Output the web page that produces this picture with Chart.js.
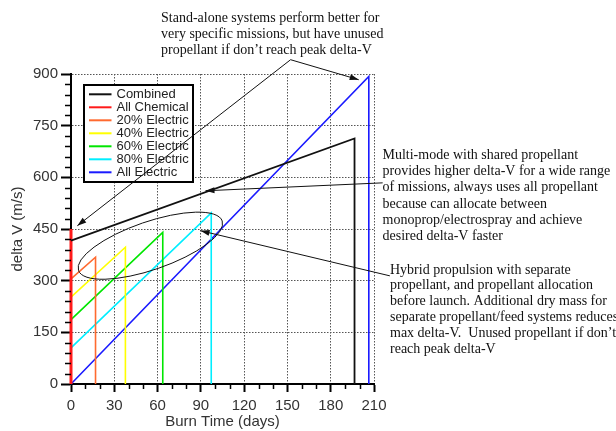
<!DOCTYPE html>
<html><head><meta charset="utf-8">
<script src="https://cdn.jsdelivr.net/npm/chart.js@4.4.1/dist/chart.umd.min.js"></script>
<style>html,body{margin:0;padding:0;background:#fff;overflow:hidden}#wrap{position:relative;width:616px;height:431px}</style>
</head><body><div id="wrap"><canvas id="c" width="616" height="431"></canvas></div>
<script>
// ---- data ----
const seriesNames = ['Combined','All Chemical','20% Electric','40% Electric','60% Electric','80% Electric','All Electric'];
const combinedDays = [0, 196.5, 196.5];
const combinedDV   = [416, 713, 0];
const chemDays     = [0, 0];
const chemDV       = [0, 450];
const e20Days      = [0, 17, 17];
const e20DV        = [305, 368, 0];
const e40Days      = [0, 37.7, 37.7];
const e40DV        = [252, 397, 0];
const e60Days      = [0, 63.6, 63.6];
const e60DV        = [187, 440, 0];
const e80Days      = [0, 97.2, 97.2];
const e80DV        = [105, 497, 0];
const elecDays     = [0, 206.4, 206.4];
const elecDV       = [0, 893, 0];
const xTicks = [0, 30, 60, 90, 120, 150, 180, 210];
const yTicks = [0, 150, 300, 450, 600, 750, 900];
const xMinorTicks = [10, 20, 40, 50, 70, 80, 100, 110, 130, 140, 160, 170, 190, 200];
const yMinorTicks = [30, 60, 90, 120, 180, 210, 240, 270, 330, 360, 390, 420, 480, 510, 540, 570, 630, 660, 690, 720, 780, 810, 840, 870];
const xTitle = 'Burn Time (days)';
const yTitle = 'delta V (m/s)';
const noteTop = ['Stand-alone systems perform better for', 'very specific missions, but have unused', 'propellant if don\u2019t reach peak delta-V'];
const noteMulti = ['Multi-mode with shared propellant', 'provides higher delta-V for a wide range', 'of missions, always uses all propellant', 'because can allocate between', 'monoprop/electrospray and achieve', 'desired delta-V faster'];
const noteHybrid = ['Hybrid propulsion with separate', 'propellant, and propellant allocation', 'before launch. Additional dry mass for', 'separate propellant/feed systems reduces', 'max delta-V.  Unused propellant if don\u2019t', 'reach peak delta-V'];

// ---- styles ----
const colors = ['#111111', '#ff1a1a', '#ff6a30', '#ffff00', '#00e600', '#00eeff', '#1a1aff'];
const widths = [1.8, 3, 1.6, 1.6, 1.6, 1.6, 1.6];
const seriesDays = [combinedDays, chemDays, e20Days, e40Days, e60Days, e80Days, elecDays];
const seriesDV = [combinedDV, chemDV, e20DV, e40DV, e60DV, e80DV, elecDV];

const datasets = seriesNames.map((n, i) => ({
  label: n,
  data: seriesDays[i].map((d, j) => ({x: d, y: seriesDV[i][j]})),
  borderColor: colors[i], backgroundColor: colors[i], borderWidth: widths[i],
  pointRadius: 0, tension: 0, fill: false, clip: false
}));

const minorTicks = {
  id: 'minorTicks',
  afterDraw(chart) {
    const {ctx, scales: {x, y}} = chart;
    ctx.save(); ctx.strokeStyle = '#000'; ctx.lineWidth = 1.5;
    ctx.beginPath();
    xMinorTicks.forEach(v => { const p = Math.round(x.getPixelForValue(v)) + 0.5; ctx.moveTo(p, y.bottom); ctx.lineTo(p, y.bottom + 5); });
    yMinorTicks.forEach(v => { const p = Math.round(y.getPixelForValue(v)) + 0.5; ctx.moveTo(x.left - 6, p); ctx.lineTo(x.left, p); });
    ctx.stroke(); ctx.restore();
  }
};

const boxLegend = {
  id: 'boxLegend',
  afterDatasetsDraw(chart) {
    const ctx = chart.ctx;
    const L = 84, T = 85, W = 109, H = 97;
    ctx.save();
    ctx.fillStyle = '#fff'; ctx.fillRect(L, T, W, H);
    ctx.strokeStyle = '#000'; ctx.lineWidth = 2; ctx.strokeRect(L, T, W, H);
    ctx.font = '13px "Liberation Sans", Arial, sans-serif';
    ctx.textBaseline = 'middle'; ctx.textAlign = 'left';
    chart.data.datasets.forEach((ds, i) => {
      const cy = 94.3 + i * 13;
      ctx.strokeStyle = ds.borderColor; ctx.lineWidth = 2;
      ctx.beginPath(); ctx.moveTo(89, cy); ctx.lineTo(111.5, cy); ctx.stroke();
      ctx.fillStyle = '#222'; ctx.fillText(ds.label, 116.5, cy + 0.5);
    });
    ctx.restore();
  }
};

function arrow(ctx, x1, y1, x2, y2) {
  ctx.beginPath(); ctx.moveTo(x1, y1); ctx.lineTo(x2, y2); ctx.stroke();
  const a = Math.atan2(y2 - y1, x2 - x1), len = 9, hw = 3;
  const bx = x2 - len * Math.cos(a), by = y2 - len * Math.sin(a);
  ctx.beginPath(); ctx.moveTo(x2, y2);
  ctx.lineTo(bx + hw * Math.sin(a), by - hw * Math.cos(a));
  ctx.lineTo(bx - hw * Math.sin(a), by + hw * Math.cos(a));
  ctx.closePath(); ctx.fill();
}

const notes = {
  id: 'notes',
  afterDraw(chart) {
    const {ctx, scales: {x, y}} = chart;
    const P = (d, v) => [x.getPixelForValue(d), y.getPixelForValue(v)];
    ctx.save();
    ctx.strokeStyle = '#111'; ctx.fillStyle = '#111'; ctx.lineWidth = 1;
    // ellipse around hybrid peaks
    const [ex, ey] = P(55, 401.5);
    ctx.beginPath(); ctx.ellipse(ex, ey, 76, 24, -19 * Math.PI / 180, 0, 2 * Math.PI); ctx.stroke();
    // arrows
    const t = P(152.2, 941.5);
    arrow(ctx, t[0], t[1], ...P(199.4, 883.4));
    arrow(ctx, t[0], t[1], ...P(4.4, 459.5));
    arrow(ctx, ...P(216, 584), ...P(93.2, 561));
    arrow(ctx, ...P(221, 314), ...P(89.8, 445));
    // texts
    ctx.font = '14px "Liberation Serif", "Times New Roman", serif';
    ctx.textBaseline = 'middle'; ctx.textAlign = 'left';
    noteTop.forEach((s, i) => ctx.fillText(s, 161, 18.3 + i * 16));
    noteMulti.forEach((s, i) => ctx.fillText(s, 382.5, 155 + i * 16.3));
    noteHybrid.forEach((s, i) => ctx.fillText(s, 390, 270 + i * 15.8));
    ctx.restore();
  }
};

const axisFont = {family: '"Liberation Sans", Arial, sans-serif', size: 15};

new Chart(document.getElementById('c'), {
  type: 'line',
  data: {datasets},
  options: {
    responsive: false, animation: false, events: [],
    layout: {padding: {left: 0, top: 74, right: 242, bottom: 0}},
    plugins: {legend: {display: false}, tooltip: {enabled: false}},
    scales: {
      x: {
        type: 'linear', min: 0, max: 210,
        afterBuildTicks: s => { s.ticks = xTicks.map(v => ({value: v})); },
        afterFit: s => { s.height = 47; },
        ticks: {font: axisFont, color: '#333', padding: 5, maxRotation: 0, autoSkip: false},
        grid: {color: '#555', lineWidth: 1, tickLength: 8, tickWidth: 2, tickColor: '#000', tickBorderDash: []},
        border: {display: true, color: '#000', width: 2, dash: [1.5, 1.5]},
        title: {display: true, text: xTitle, font: axisFont, color: '#333', padding: {top: 0, bottom: 0}}
      },
      y: {
        type: 'linear', min: 0, max: 900,
        afterBuildTicks: s => { s.ticks = yTicks.map(v => ({value: v})); },
        afterFit: s => { s.width = 71; },
        ticks: {font: axisFont, color: '#333', padding: 3, autoSkip: false},
        grid: {color: '#555', lineWidth: 1, tickLength: 10, tickWidth: 2, tickColor: '#000', tickBorderDash: []},
        border: {display: true, color: '#000', width: 2, dash: [1.5, 1.5]},
        title: {display: true, text: yTitle, font: axisFont, color: '#333', padding: {top: 9, bottom: 0}}
      }
    }
  },
  plugins: [minorTicks, boxLegend, notes]
});
</script></body></html>
